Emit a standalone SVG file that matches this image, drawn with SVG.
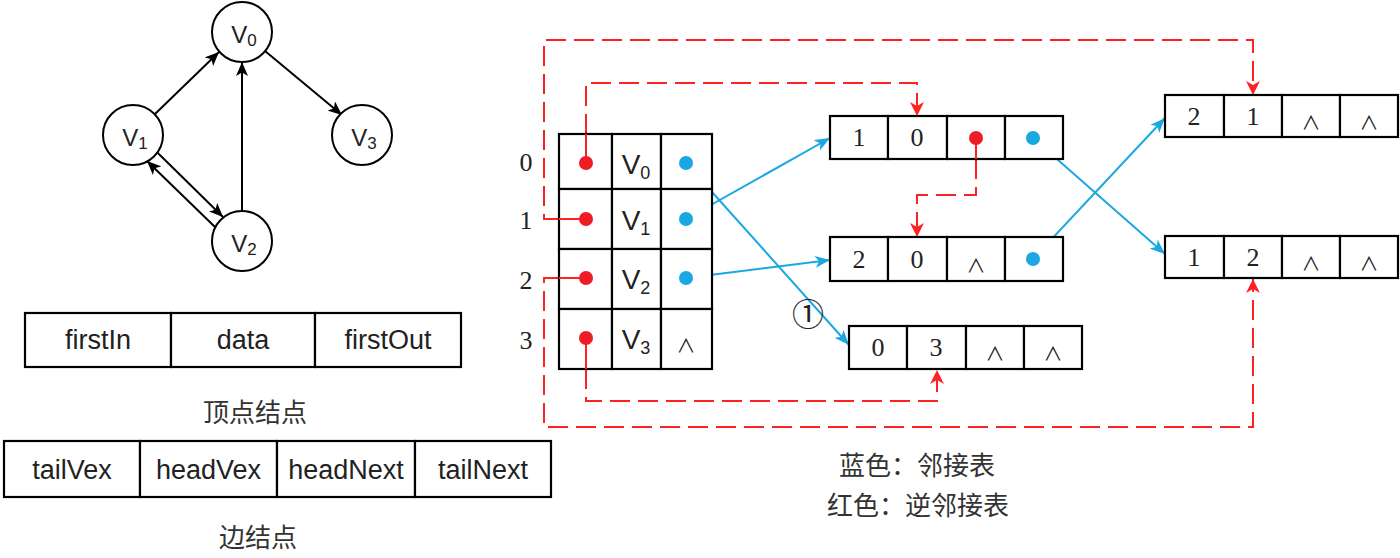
<svg xmlns="http://www.w3.org/2000/svg" width="1400" height="558" viewBox="0 0 1400 558">
<style>
.circ{fill:#fff;stroke:#000;stroke-width:2}
.cell{fill:#fff;stroke:#000;stroke-width:2.2}
.lbl{font-family:"Liberation Sans",Arial,sans-serif;fill:#222;text-anchor:middle}
.dig{font-family:"Liberation Serif","Times New Roman",serif;font-size:26px;fill:#222;text-anchor:middle}
.cjk{font-family:"Noto Sans CJK SC",sans-serif;font-size:26px;fill:#333;text-anchor:middle}
.and{font-family:"Noto Sans CJK SC",sans-serif;font-size:19px;fill:#222;text-anchor:middle}
.blue{stroke:#1aa7e2;stroke-width:2;fill:none}
.red{stroke:#ff2222;stroke-width:2;fill:none}
.dash{stroke:#ff2222;stroke-width:2;fill:none;stroke-dasharray:20 8}
.bdot{fill:#1aa7e2}
.rdot{fill:#ee1c25}
.blk{stroke:#000;stroke-width:2;fill:none}
</style>
<defs>
<marker id="ab" markerUnits="userSpaceOnUse" markerWidth="14" markerHeight="12" refX="14" refY="6" orient="auto"><path d="M0,0 L14,6 L0,12 L3.5,6 Z" fill="#000"/></marker>
<marker id="abl" markerUnits="userSpaceOnUse" markerWidth="15" markerHeight="12" refX="15" refY="6" orient="auto"><path d="M0,0 L15,6 L0,12 L4,6 Z" fill="#1aa7e2"/></marker>
<marker id="ar" markerUnits="userSpaceOnUse" markerWidth="14" markerHeight="14" refX="14" refY="7" orient="auto"><path d="M0,0 L14,7 L0,14 L4,7 Z" fill="#ff2222"/></marker>
</defs>
<rect width="1400" height="558" fill="#fff"/>

<!-- graph -->
<g id="connectors-graph">
<line class="blk" x1="155" y1="114" x2="219" y2="52" marker-end="url(#ab)"/>
<line class="blk" x1="242" y1="211" x2="242" y2="62" marker-end="url(#ab)"/>
<line class="blk" x1="265" y1="51" x2="342" y2="115" marker-end="url(#ab)"/>
<line class="blk" x1="157.6" y1="152.7" x2="223" y2="217" marker-end="url(#ab)"/>
<line class="blk" x1="215" y1="227" x2="147" y2="161" marker-end="url(#ab)"/>
</g>
<g id="gv0"><circle class="circ" cx="242" cy="32" r="30"/><text class="lbl" x="244" y="43" font-size="24">V<tspan font-size="17" dy="3">0</tspan></text></g>
<g id="gv1"><circle class="circ" cx="133" cy="135" r="30"/><text class="lbl" x="135" y="146" font-size="24">V<tspan font-size="17" dy="3">1</tspan></text></g>
<g id="gv2"><circle class="circ" cx="242" cy="241" r="30"/><text class="lbl" x="244" y="252" font-size="24">V<tspan font-size="17" dy="3">2</tspan></text></g>
<g id="gv3"><circle class="circ" cx="362" cy="135" r="30"/><text class="lbl" x="364" y="146" font-size="24">V<tspan font-size="17" dy="3">3</tspan></text></g>

<!-- vertex node structure -->
<g id="vertex-node">
<rect class="cell" x="25" y="313" width="146" height="54"/>
<rect class="cell" x="171" y="313" width="144" height="54"/>
<rect class="cell" x="315" y="313" width="146" height="54"/>
<text class="lbl" x="98" y="349" font-size="27">firstIn</text>
<text class="lbl" x="243" y="349" font-size="27">data</text>
<text class="lbl" x="388" y="349" font-size="27">firstOut</text>
<text class="cjk" x="255" y="422">顶点结点</text>
</g>
<g id="edge-node">
<rect class="cell" x="4" y="441" width="136" height="56"/>
<rect class="cell" x="140" y="441" width="137" height="56"/>
<rect class="cell" x="277" y="441" width="138" height="56"/>
<rect class="cell" x="415" y="441" width="136" height="56"/>
<text class="lbl" x="72" y="479" font-size="27">tailVex</text>
<text class="lbl" x="208.5" y="479" font-size="27">headVex</text>
<text class="lbl" x="346" y="479" font-size="27">headNext</text>
<text class="lbl" x="483" y="479" font-size="27">tailNext</text>
<text class="cjk" x="258" y="547">边结点</text>
</g>

<!-- index labels -->
<g id="indices">
<text class="dig" x="526" y="171">0</text>
<text class="dig" x="526" y="229">1</text>
<text class="dig" x="526" y="289">2</text>
<text class="dig" x="526" y="349">3</text>
</g>

<!-- connectors -->
<g id="connectors">
<path class="dash" d="M586,134 V83 H917 V116" marker-end="url(#ar)"/>
<path class="dash" d="M559,219 H544 V40 H1253 V95" marker-end="url(#ar)"/>
<path class="dash" d="M559,278 H544 V427 H1253 V279" marker-end="url(#ar)"/>
<path class="dash" d="M586,369 V401 H937 V370" marker-end="url(#ar)"/>
<path class="dash" d="M976,159 V195 H917 V237" marker-end="url(#ar)"/>
<line class="blue" x1="686" y1="219" x2="830" y2="138" marker-end="url(#abl)"/>
<line class="blue" x1="686" y1="278" x2="830" y2="260" marker-end="url(#abl)"/>
<line class="blue" x1="686" y1="163" x2="849" y2="345" marker-end="url(#abl)"/>
<line class="blue" x1="1033" y1="138" x2="1165" y2="254" marker-end="url(#abl)"/>
<line class="blue" x1="1033" y1="259" x2="1165" y2="118" marker-end="url(#abl)"/>
</g>

<!-- vertex table -->
<g id="vx0">
<rect class="cell" x="559" y="134" width="53" height="55"/>
<rect class="cell" x="612" y="134" width="49" height="55"/>
<rect class="cell" x="661" y="134" width="51" height="55"/>
<line class="red" x1="586" y1="134" x2="586" y2="163"/>
<circle class="rdot" cx="586" cy="163" r="7"/>
<text class="lbl" x="636" y="174" font-size="28">V<tspan font-size="18" dy="5">0</tspan></text>
<circle class="bdot" cx="686" cy="163" r="7"/>
</g>
<g id="vx1">
<rect class="cell" x="559" y="189" width="53" height="60"/>
<rect class="cell" x="612" y="189" width="49" height="60"/>
<rect class="cell" x="661" y="189" width="51" height="60"/>
<line class="red" x1="559" y1="219" x2="586" y2="219"/>
<circle class="rdot" cx="586" cy="219" r="7"/>
<text class="lbl" x="636" y="230" font-size="28">V<tspan font-size="18" dy="5">1</tspan></text>
<circle class="bdot" cx="686" cy="219" r="7"/>
</g>
<g id="vx2">
<rect class="cell" x="559" y="249" width="53" height="60"/>
<rect class="cell" x="612" y="249" width="49" height="60"/>
<rect class="cell" x="661" y="249" width="51" height="60"/>
<line class="red" x1="559" y1="278" x2="586" y2="278"/>
<circle class="rdot" cx="586" cy="278" r="7"/>
<text class="lbl" x="636" y="289" font-size="28">V<tspan font-size="18" dy="5">2</tspan></text>
<circle class="bdot" cx="686" cy="278" r="7"/>
</g>
<g id="vx3">
<rect class="cell" x="559" y="309" width="53" height="60"/>
<rect class="cell" x="612" y="309" width="49" height="60"/>
<rect class="cell" x="661" y="309" width="51" height="60"/>
<line class="red" x1="586" y1="338" x2="586" y2="369"/>
<circle class="rdot" cx="586" cy="338" r="7"/>
<text class="lbl" x="636" y="349" font-size="28">V<tspan font-size="18" dy="5">3</tspan></text>
<text class="and" x="686" y="353">∧</text>
</g>

<!-- edge nodes -->
<g id="e10">
<rect class="cell" x="830" y="116" width="58" height="43"/>
<rect class="cell" x="888" y="116" width="59" height="43"/>
<rect class="cell" x="947" y="116" width="58" height="43"/>
<rect class="cell" x="1005" y="116" width="58" height="43"/>
<text class="dig" x="859" y="146">1</text>
<text class="dig" x="917" y="146">0</text>
<line class="red" x1="976" y1="138" x2="976" y2="159"/>
<circle class="rdot" cx="976" cy="138" r="7"/>
<circle class="bdot" cx="1033" cy="138" r="7"/>
</g>
<g id="e20">
<rect class="cell" x="830" y="237" width="58" height="44"/>
<rect class="cell" x="888" y="237" width="59" height="44"/>
<rect class="cell" x="947" y="237" width="58" height="44"/>
<rect class="cell" x="1005" y="237" width="58" height="44"/>
<text class="dig" x="859" y="268">2</text>
<text class="dig" x="917" y="268">0</text>
<text class="and" x="976" y="273">∧</text>
<circle class="bdot" cx="1033" cy="259" r="7"/>
</g>
<g id="e03">
<rect class="cell" x="849" y="326" width="58" height="43"/>
<rect class="cell" x="907" y="326" width="59" height="43"/>
<rect class="cell" x="966" y="326" width="58" height="43"/>
<rect class="cell" x="1024" y="326" width="58" height="43"/>
<text class="dig" x="878" y="356">0</text>
<text class="dig" x="936" y="356">3</text>
<text class="and" x="995" y="361">∧</text>
<text class="and" x="1053" y="361">∧</text>
</g>
<g id="e21">
<rect class="cell" x="1165" y="95" width="59" height="42"/>
<rect class="cell" x="1224" y="95" width="58" height="42"/>
<rect class="cell" x="1282" y="95" width="58" height="42"/>
<rect class="cell" x="1340" y="95" width="58" height="42"/>
<text class="dig" x="1194" y="125">2</text>
<text class="dig" x="1253" y="125">1</text>
<text class="and" x="1311" y="130">∧</text>
<text class="and" x="1369" y="130">∧</text>
</g>
<g id="e12">
<rect class="cell" x="1165" y="236" width="59" height="42"/>
<rect class="cell" x="1224" y="236" width="58" height="42"/>
<rect class="cell" x="1282" y="236" width="58" height="42"/>
<rect class="cell" x="1340" y="236" width="58" height="42"/>
<text class="dig" x="1194" y="266">1</text>
<text class="dig" x="1253" y="266">2</text>
<text class="and" x="1311" y="271">∧</text>
<text class="and" x="1369" y="271">∧</text>
</g>

<text id="mark1" x="808" y="326" font-family="Noto Sans CJK SC, sans-serif" font-size="32" fill="#222" text-anchor="middle">①</text>

<g id="legend">
<text class="cjk" x="917" y="475" font-size="27">蓝色：邻接表</text>
<text class="cjk" x="918" y="515" font-size="27">红色：逆邻接表</text>
</g>
</svg>
